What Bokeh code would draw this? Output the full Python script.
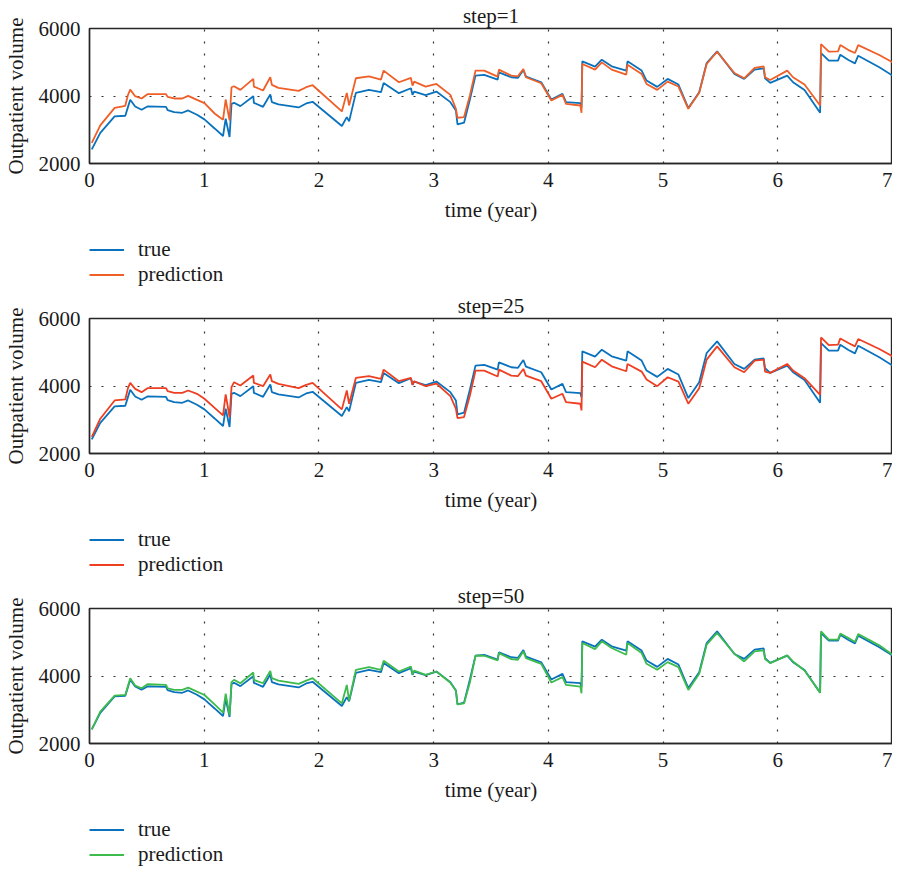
from bokeh.plotting import figure
from bokeh.models import Legend, LegendItem, FixedTicker, Range1d
from bokeh.layouts import column
from bokeh.embed import file_html
from bokeh.resources import INLINE

time_year = [0.02, 0.094, 0.219, 0.312, 0.335, 0.355, 0.398, 0.454, 0.505, 0.667,
             0.681, 0.738, 0.809, 0.860, 0.937, 1.002, 1.093, 1.164, 1.187, 1.221,
             1.238, 1.26, 1.315, 1.428, 1.433, 1.513, 1.576, 1.59, 1.647, 1.823,
             1.889, 1.945, 2.200, 2.243, 2.263, 2.322, 2.436, 2.541, 2.564, 2.697,
             2.802, 2.816, 2.83, 2.930, 3.024, 3.146, 3.194, 3.208, 3.265, 3.316,
             3.365, 3.441, 3.558, 3.569, 3.677, 3.734, 3.782, 3.805, 3.938, 4.026,
             4.123, 4.154, 4.279, 4.289, 4.296, 4.407, 4.466, 4.552, 4.679, 4.690,
             4.813, 4.856, 4.949, 5.040, 5.134, 5.22, 5.315, 5.380, 5.471, 5.622,
             5.707, 5.798, 5.877, 5.889, 5.934, 6.082, 6.133, 6.233, 6.369, 6.377,
             6.445, 6.525, 6.545, 6.616, 6.673, 6.701, 6.885, 7.0]

true_volume = [2420, 2910, 3395, 3415, 3670, 3887, 3690, 3592, 3690, 3680,
               3582, 3523, 3503, 3572, 3444, 3307, 3031, 2815, 3326, 2786,
               3768, 3798, 3700, 3995, 3798, 3680, 4044, 3818, 3749, 3660,
               3778, 3828, 3110, 3375, 3248, 4093, 4181, 4113, 4388, 4083,
               4230, 4034, 4132, 4024, 4132, 3818, 3572, 3159, 3208, 3896,
               4604, 4624, 4486, 4702, 4555, 4535, 4771, 4575, 4407, 3896,
               4063, 3818, 3788, 3670, 5027, 4870, 5076, 4880, 4752, 5027,
               4752, 4457, 4270, 4506, 4339, 3641, 4113, 4978, 5322, 4653,
               4506, 4781, 4820, 4525, 4388, 4604, 4407, 4181, 3503, 5273,
               5047, 5047, 5224, 5066, 4968, 5194, 4850, 4604]

pred_step1 = [2610, 3130, 3650, 3710, 4030, 4190, 3995, 3926, 4054, 4054,
              3975, 3926, 3926, 4005, 3887, 3788, 3474, 3297, 3896, 3277,
              4260, 4290, 4181, 4506, 4280, 4162, 4555, 4329, 4240, 4152,
              4260, 4319, 3543, 4093, 3720, 4526, 4584, 4486, 4752, 4407,
              4535, 4309, 4427, 4280, 4358, 4034, 3621, 3356, 3375, 4015,
              4752, 4752, 4575, 4781, 4604, 4584, 4801, 4555, 4378, 3867,
              4034, 3769, 3719, 3503, 4948, 4781, 4997, 4781, 4633, 4928,
              4653, 4358, 4181, 4427, 4280, 3621, 4093, 4948, 5312, 4683,
              4525, 4830, 4879, 4555, 4476, 4752, 4555, 4339, 3720, 5538,
              5312, 5322, 5509, 5361, 5273, 5509, 5214, 4997]

pred_step25 = [2491, 3031, 3572, 3601, 3936, 4093, 3916, 3818, 3936, 3936,
               3847, 3798, 3798, 3867, 3769, 3621, 3346, 3130, 3749, 3081,
               3965, 4113, 4015, 4309, 4093, 3995, 4339, 4142, 4064, 3936,
               4034, 4093, 3307, 3867, 3474, 4240, 4290, 4211, 4486, 4142,
               4240, 4034, 4142, 3995, 4073, 3700, 3326, 3051, 3081, 3720,
               4457, 4457, 4280, 4486, 4309, 4290, 4506, 4309, 4142, 3621,
               3769, 3523, 3474, 3277, 4722, 4555, 4781, 4584, 4437, 4653,
               4427, 4191, 3995, 4260, 4132, 3474, 3936, 4781, 5174, 4555,
               4407, 4752, 4781, 4427, 4388, 4653, 4457, 4230, 3739, 5440,
               5214, 5224, 5410, 5273, 5174, 5391, 5096, 4880]

pred_step50 = [2420, 2942, 3418, 3438, 3700, 3935, 3716, 3637, 3756, 3736,
               3637, 3587, 3587, 3657, 3537, 3438, 3150, 2912, 3480, 2842,
               3820, 3885, 3786, 4103, 3885, 3786, 4153, 3935, 3865, 3766,
               3865, 3935, 3190, 3736, 3269, 4183, 4262, 4183, 4451, 4133,
               4282, 4050, 4160, 4034, 4133, 3800, 3560, 3160, 3190, 3806,
               4600, 4600, 4461, 4679, 4500, 4481, 4729, 4530, 4362, 3806,
               3965, 3736, 3686, 3488, 4977, 4798, 5027, 4828, 4630, 4977,
               4679, 4362, 4183, 4411, 4262, 3587, 4064, 4928, 5275, 4659,
               4431, 4729, 4759, 4500, 4381, 4610, 4431, 4163, 3507, 5325,
               5076, 5076, 5255, 5126, 5007, 5245, 4908, 4630]

titles = ["step=1", "step=25", "step=50"]
series_labels = ["true", "prediction"]
x_ticks = [0, 1, 2, 3, 4, 5, 6, 7]
y_ticks = [2000, 4000, 6000]

FONT = "Liberation Serif"
FS = "21px"
TXT = "#1a1a1a"
BLUE = "#0a72bd"
COLORS = ["#ef5f28", "#ee3f22", "#3dbb4c"]
LINE_W = 1.8


def make_panel(title, pred, color):
    p = figure(frame_width=803, frame_height=135,
               x_range=Range1d(0, 7), y_range=Range1d(2000, 6000),
               output_backend="svg", toolbar_location=None,
               min_border_left=82, min_border_right=0, min_border_top=22,
               min_border_bottom=71, title=title)
    p.title.text_font = FONT
    p.title.text_font_size = FS
    p.title.text_font_style = "normal"
    p.title.text_color = TXT
    p.title.align = "center"
    p.title.standoff = 2

    p.outline_line_color = "#262626"
    p.outline_line_width = 1.4
    p.background_fill_color = None
    p.border_fill_color = None

    for ax in (p.xaxis[0], p.yaxis[0]):
        ax.axis_line_color = "#262626"
        ax.axis_line_width = 1.4
        ax.major_tick_in = 0
        ax.major_tick_out = 0
        ax.minor_tick_in = 0
        ax.minor_tick_out = 0
        ax.major_label_text_font = FONT
        ax.major_label_text_font_size = FS
        ax.major_label_text_color = TXT
        ax.axis_label_text_font = FONT
        ax.axis_label_text_font_size = FS
        ax.axis_label_text_font_style = "normal"
        ax.axis_label_text_color = TXT
        ax.major_label_standoff = 9
        ax.axis_label_standoff = 8

    p.xaxis[0].ticker = FixedTicker(ticks=x_ticks)
    p.yaxis[0].ticker = FixedTicker(ticks=y_ticks)
    p.xaxis[0].axis_label = "time (year)"
    p.yaxis[0].axis_label = "Outpatient volume"

    for g in (p.xgrid[0], p.ygrid[0]):
        g.grid_line_color = "#333333"
        g.grid_line_dash = "2 10"
        g.grid_line_width = 1.2
    p.xgrid[0].ticker = FixedTicker(ticks=x_ticks)
    p.ygrid[0].ticker = FixedTicker(ticks=y_ticks)

    p.line(time_year, true_volume, line_color=BLUE, line_width=LINE_W)
    p.line(time_year, pred, line_color=color, line_width=LINE_W)
    return p


def make_legend(pred, color, height):
    # legend strip under each panel; its series lie outside the strip's view
    lg = figure(width=895, height=height, x_range=Range1d(0, 7), y_range=Range1d(0, 1),
                output_backend="svg", toolbar_location=None,
                x_axis_type=None, y_axis_type=None,
                min_border_left=82, min_border_right=0, min_border_top=3, min_border_bottom=0)
    lg.outline_line_color = None
    lg.background_fill_color = None
    lg.border_fill_color = None
    lg.xgrid.visible = False
    lg.ygrid.visible = False
    r_true = lg.line(time_year, true_volume, line_color=BLUE, line_width=LINE_W)
    r_pred = lg.line(time_year, pred, line_color=color, line_width=LINE_W)
    legend = Legend(items=[LegendItem(label=series_labels[0], renderers=[r_true]),
                           LegendItem(label=series_labels[1], renderers=[r_pred])],
                    location="top_left", orientation="vertical")
    legend.border_line_color = None
    legend.background_fill_alpha = 0
    legend.padding = 0
    legend.spacing = 0
    legend.margin = 0
    legend.glyph_width = 35
    legend.glyph_height = 23
    legend.label_height = 23
    legend.label_standoff = 14
    legend.label_text_font = FONT
    legend.label_text_font_size = FS
    legend.label_text_color = TXT
    lg.add_layout(legend, "center")
    return lg


preds = [pred_step1, pred_step25, pred_step50]
legend_heights = [56, 56, 55]
blocks = []
for t, pr, c, h in zip(titles, preds, COLORS, legend_heights):
    blocks.append(make_panel(t, pr, c))
    blocks.append(make_legend(pr, c, h))

layout = column(*blocks, spacing=0)
open("out.html", "w").write(file_html(layout, INLINE))
